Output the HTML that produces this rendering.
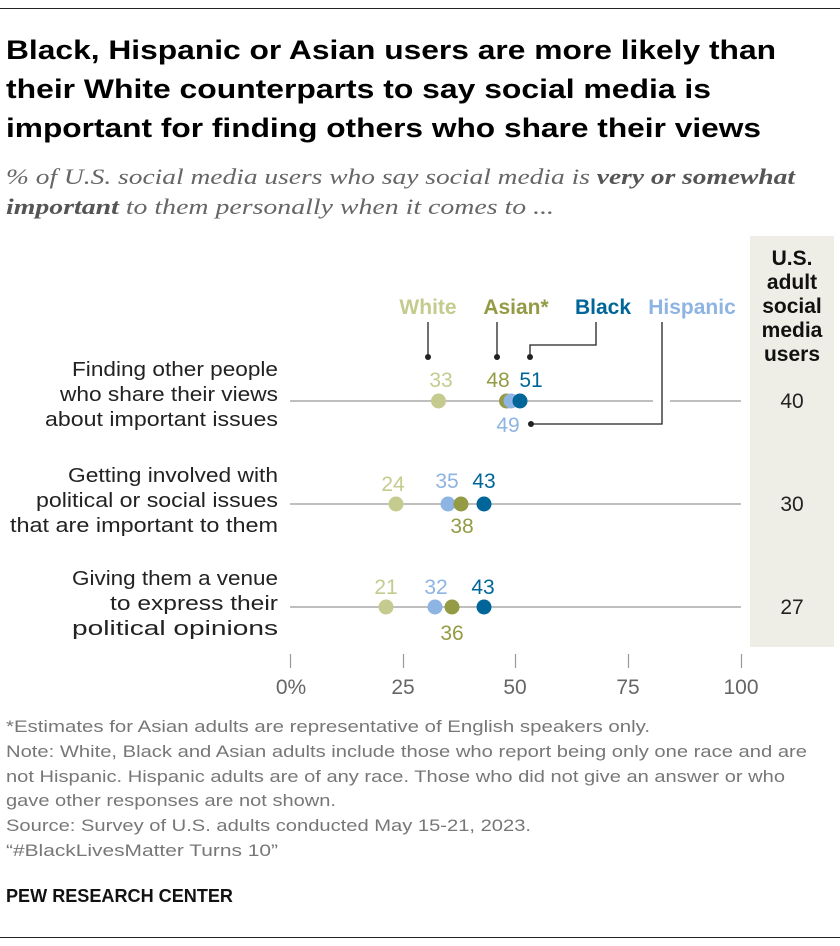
<!DOCTYPE html>
<html><head><meta charset="utf-8"><style>
html,body{margin:0;padding:0;background:#fff;}
svg{display:block;}
</style></head><body>
<svg width="840" height="946" viewBox="0 0 840 946" xmlns="http://www.w3.org/2000/svg" font-family="Liberation Sans, sans-serif">
<line x1="0" y1="8.5" x2="840" y2="8.5" stroke="#222" stroke-width="1"/>
<g font-weight="bold" font-size="26.5" fill="#000">
<text x="6" y="59" textLength="770" lengthAdjust="spacingAndGlyphs">Black, Hispanic or Asian users are more likely than</text>
<text x="6" y="98" textLength="705" lengthAdjust="spacingAndGlyphs">their White counterparts to say social media is</text>
<text x="6" y="137" textLength="755" lengthAdjust="spacingAndGlyphs">important for finding others who share their views</text>
</g>
<g style="font-family:'Liberation Serif',serif;font-style:italic" font-size="22" fill="#666">
<text x="6" y="184" textLength="789" lengthAdjust="spacingAndGlyphs">% of U.S. social media users who say social media is <tspan font-weight="bold" fill="#555">very or somewhat</tspan></text>
<text x="6" y="214" textLength="548" lengthAdjust="spacingAndGlyphs"><tspan font-weight="bold" fill="#555">important</tspan> to them personally when it comes to ...</text>
</g>
<rect x="750" y="236" width="84" height="411" fill="#eeede6"/>
<g font-weight="bold" font-size="21" fill="#111" text-anchor="middle">
<text x="792" y="265">U.S.</text><text x="792" y="289">adult</text><text x="792" y="313">social</text><text x="792" y="337">media</text><text x="792" y="361">users</text>
</g>
<g font-weight="bold" font-size="21">
<text x="428" y="314" fill="#c5cb8e" text-anchor="middle">White</text>
<text x="516" y="314" fill="#949b44" text-anchor="middle">Asian*</text>
<text x="603" y="314" fill="#006699" text-anchor="middle">Black</text>
<text x="692" y="314" fill="#8db4e2" text-anchor="middle">Hispanic</text>
</g>
<g stroke="#222" stroke-width="1.3" fill="none">
<polyline points="428,322 428,357"/>
<polyline points="497,322 497,357"/>
<polyline points="596,322 596,345 530,345 530,357"/>
<polyline points="662,322 662,424 531,424"/>
</g>
<g fill="#222"><circle cx="428" cy="357" r="3"/><circle cx="497" cy="357" r="3"/><circle cx="530" cy="357" r="3"/><circle cx="531" cy="424" r="3"/></g>
<g stroke="#999" stroke-width="1.2">
<line x1="290" y1="401" x2="653" y2="401"/><line x1="670" y1="401" x2="741" y2="401"/>
<line x1="290" y1="504" x2="741" y2="504"/>
<line x1="290" y1="607" x2="741" y2="607"/>
</g>
<g font-size="20" fill="#222" text-anchor="end">
<text x="278" y="376" textLength="206" lengthAdjust="spacingAndGlyphs">Finding other people</text><text x="278" y="401" textLength="218" lengthAdjust="spacingAndGlyphs">who share their views</text><text x="278" y="426" textLength="233" lengthAdjust="spacingAndGlyphs">about important issues</text>
<text x="278" y="482" textLength="210" lengthAdjust="spacingAndGlyphs">Getting involved with</text><text x="278" y="507" textLength="242" lengthAdjust="spacingAndGlyphs">political or social issues</text><text x="278" y="532" textLength="268" lengthAdjust="spacingAndGlyphs">that are important to them</text>
<text x="278" y="585" textLength="206" lengthAdjust="spacingAndGlyphs">Giving them a venue</text><text x="278" y="610" textLength="168" lengthAdjust="spacingAndGlyphs">to express their</text><text x="278" y="635" textLength="206" lengthAdjust="spacingAndGlyphs">political opinions</text>
</g>
<g font-size="21" fill="#222" text-anchor="middle">
<text x="792" y="408">40</text><text x="792" y="511">30</text><text x="792" y="614">27</text>
</g>
<circle cx="438.5" cy="401" r="7.5" fill="#c5cb8e"/>
<circle cx="506.5" cy="401" r="7.5" fill="#949b44"/>
<circle cx="511" cy="401" r="7.5" fill="#8db4e2"/>
<circle cx="520" cy="401" r="7.5" fill="#006699"/>
<g font-size="21" text-anchor="middle">
<text x="441" y="387" fill="#c5cb8e">33</text>
<text x="498" y="387" fill="#949b44">48</text>
<text x="531" y="387" fill="#006699">51</text>
<text x="508" y="432" fill="#8db4e2">49</text>
</g>
<circle cx="396" cy="504" r="7.5" fill="#c5cb8e"/>
<circle cx="448" cy="504" r="7.5" fill="#8db4e2"/>
<circle cx="461" cy="504" r="7.5" fill="#949b44"/>
<circle cx="484" cy="504" r="7.5" fill="#006699"/>
<g font-size="21" text-anchor="middle">
<text x="393" y="491" fill="#c5cb8e">24</text>
<text x="447" y="488" fill="#8db4e2">35</text>
<text x="484" y="488" fill="#006699">43</text>
<text x="462" y="533" fill="#949b44">38</text>
</g>
<circle cx="386" cy="607" r="7.5" fill="#c5cb8e"/>
<circle cx="435" cy="607" r="7.5" fill="#8db4e2"/>
<circle cx="452" cy="607" r="7.5" fill="#949b44"/>
<circle cx="484" cy="607" r="7.5" fill="#006699"/>
<g font-size="21" text-anchor="middle">
<text x="386" y="594" fill="#c5cb8e">21</text>
<text x="436" y="594" fill="#8db4e2">32</text>
<text x="483" y="594" fill="#006699">43</text>
<text x="452" y="640" fill="#949b44">36</text>
</g>
<g stroke="#999" stroke-width="1.2">
<line x1="290.5" y1="654" x2="290.5" y2="668"/><line x1="403.5" y1="654" x2="403.5" y2="668"/><line x1="515.5" y1="654" x2="515.5" y2="668"/><line x1="628.5" y1="654" x2="628.5" y2="668"/><line x1="741.5" y1="654" x2="741.5" y2="668"/>
</g>
<g font-size="21" fill="#666" text-anchor="middle">
<text x="291" y="694">0%</text><text x="403" y="694">25</text><text x="515" y="694">50</text><text x="628" y="694">75</text><text x="741" y="694">100</text>
</g>
<g font-size="17" fill="#777">
<text x="6" y="732" textLength="644" lengthAdjust="spacingAndGlyphs">*Estimates for Asian adults are representative of English speakers only.</text>
<text x="6" y="757" textLength="801" lengthAdjust="spacingAndGlyphs">Note: White, Black and Asian adults include those who report being only one race and are</text>
<text x="6" y="782" textLength="779" lengthAdjust="spacingAndGlyphs">not Hispanic. Hispanic adults are of any race. Those who did not give an answer or who</text>
<text x="6" y="806" textLength="330" lengthAdjust="spacingAndGlyphs">gave other responses are not shown.</text>
<text x="6" y="831" textLength="525" lengthAdjust="spacingAndGlyphs">Source: Survey of U.S. adults conducted May 15-21, 2023.</text>
<text x="6" y="856" textLength="272" lengthAdjust="spacingAndGlyphs">“#BlackLivesMatter Turns 10”</text>
</g>
<text x="6" y="902" font-size="18" font-weight="bold" fill="#111" textLength="227" lengthAdjust="spacingAndGlyphs">PEW RESEARCH CENTER</text>
<line x1="0" y1="937.5" x2="840" y2="937.5" stroke="#222" stroke-width="1"/>
</svg>
</body></html>
